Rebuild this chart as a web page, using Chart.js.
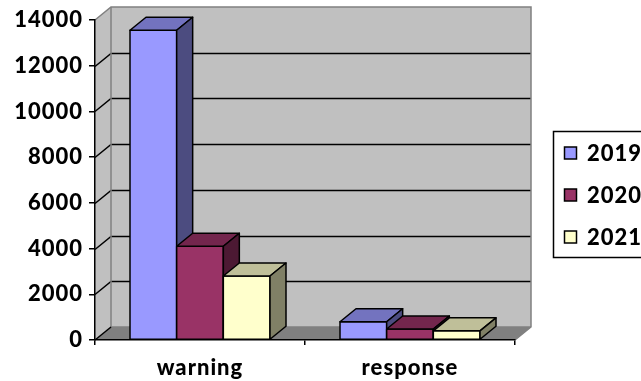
<!DOCTYPE html>
<html>
<head>
<meta charset="utf-8">
<script src="https://cdn.jsdelivr.net/npm/chart.js@4.4.1/dist/chart.umd.min.js"></script>
<style>
  html, body { margin: 0; padding: 0; background: #ffffff; }
  #wrap { width: 641px; height: 381px; position: relative; }
</style>
</head>
<body>
<div id="wrap"><canvas id="chart" width="641" height="381"></canvas></div>
<script>
// Categories and yearly series
const categories = ['warning', 'response'];
const seriesLabels = ['2019', '2020', '2021'];
const values2019 = [13550, 800];
const values2020 = [4100, 480];
const values2021 = [2800, 400];
const yTicks = [0, 2000, 4000, 6000, 8000, 10000, 12000, 14000];

// Face colours: front, top (lighter shade), side (darker shade)
const faceColors = [
  { front: '#9999FF', top: '#7373BF', side: '#4C4C80' },
  { front: '#993366', top: '#73264D', side: '#4C1933' },
  { front: '#FFFFCC', top: '#BFBF99', side: '#808066' }
];

const DEPTH_X = 16;
const DEPTH_Y = -13;
const FONT = 'Lato, "DejaVu Sans", sans-serif';
const FONT_SIZE = 22;
const FONT_WEIGHT = '900';

// Walls, floor and gridlines of the 3-D plot box
const boxPlugin = {
  id: 'box3d',
  beforeDraw(chart) {
    const { ctx, chartArea: a, scales } = chart;
    const y = scales.y;
    const dx = DEPTH_X, dy = DEPTH_Y;
    ctx.save();
    ctx.fillStyle = '#ffffff';
    ctx.fillRect(0, 0, chart.width, chart.height);

    const top = y.getPixelForValue(yTicks[yTicks.length - 1]);
    const bot = y.getPixelForValue(0);

    // back wall
    ctx.fillStyle = '#C0C0C0';
    ctx.fillRect(a.left + dx, top + dy, a.right - a.left, bot - top);
    // left wall
    ctx.beginPath();
    ctx.moveTo(a.left, top);
    ctx.lineTo(a.left + dx, top + dy);
    ctx.lineTo(a.left + dx, bot + dy);
    ctx.lineTo(a.left, bot);
    ctx.closePath();
    ctx.fill();
    // floor
    ctx.fillStyle = '#808080';
    ctx.beginPath();
    ctx.moveTo(a.left, bot);
    ctx.lineTo(a.left + dx, bot + dy);
    ctx.lineTo(a.right + dx, bot + dy);
    ctx.lineTo(a.right, bot);
    ctx.closePath();
    ctx.fill();

    // gridlines on back wall and left wall
    ctx.strokeStyle = '#000000';
    ctx.lineWidth = 1.5;
    yTicks.forEach(v => {
      if (v === 0 || v === yTicks[yTicks.length - 1]) return;
      const py = Math.round(y.getPixelForValue(v)) + 0.5;
      ctx.beginPath();
      ctx.moveTo(a.left, py);
      ctx.lineTo(a.left + dx, py + dy);
      ctx.lineTo(a.right + dx, py + dy);
      ctx.stroke();
    });

    // wall edges
    ctx.strokeStyle = '#808080';
    ctx.lineWidth = 1.5;
    ctx.beginPath();
    ctx.moveTo(a.left, top);
    ctx.lineTo(a.left + dx, top + dy);
    ctx.lineTo(a.right + dx, top + dy);
    ctx.lineTo(a.right + dx, bot + dy);
    ctx.lineTo(a.right, bot);
    ctx.stroke();
    ctx.beginPath();
    ctx.moveTo(a.left + dx, top + dy);
    ctx.lineTo(a.left + dx, bot + dy);
    ctx.lineTo(a.right + dx, bot + dy);
    ctx.stroke();
    ctx.strokeStyle = '#000000';
    ctx.beginPath();
    ctx.moveTo(a.left, bot);
    ctx.lineTo(a.left + dx, bot + dy);
    ctx.stroke();
    ctx.restore();
    // slightly wider letter spacing for all chart text
    ctx.letterSpacing = '1px';
  },
  // 3-D columns built from the bar elements' positions
  beforeDatasetsDraw(chart) {
    const { ctx } = chart;
    const dx = DEPTH_X, dy = DEPTH_Y;
    ctx.save();
    ctx.lineWidth = 1.5;
    ctx.strokeStyle = '#000000';
    ctx.lineJoin = 'round';
    categories.forEach((c, j) => {
      chart.data.datasets.forEach((ds, i) => {
        const el = chart.getDatasetMeta(i).data[j];
        const p = el.getProps(['x', 'y', 'base', 'width'], true);
        const l = p.x - p.width / 2, r = p.x + p.width / 2;
        const t = p.y, b = p.base;
        const col = faceColors[i];
        // front
        ctx.fillStyle = col.front;
        ctx.fillRect(l, t, r - l, b - t);
        ctx.strokeRect(l, t, r - l, b - t);
        // top
        ctx.fillStyle = col.top;
        ctx.beginPath();
        ctx.moveTo(l, t);
        ctx.lineTo(l + dx, t + dy);
        ctx.lineTo(r + dx, t + dy);
        ctx.lineTo(r, t);
        ctx.closePath();
        ctx.fill();
        ctx.stroke();
        // side
        ctx.fillStyle = col.side;
        ctx.beginPath();
        ctx.moveTo(r, t);
        ctx.lineTo(r + dx, t + dy);
        ctx.lineTo(r + dx, b + dy);
        ctx.lineTo(r, b);
        ctx.closePath();
        ctx.fill();
        ctx.stroke();
      });
    });
    ctx.restore();
    return false;
  },
  // boxed legend on the right
  afterDraw(chart) {
    const { ctx } = chart;
    ctx.save();
    ctx.letterSpacing = '1px';
    ctx.strokeStyle = '#000000';
    ctx.lineWidth = 1.5;
    ctx.strokeRect(553.5, 131.5, 110, 126);
    ctx.font = FONT_WEIGHT + ' ' + FONT_SIZE + 'px ' + FONT;
    ctx.textBaseline = 'middle';
    ctx.textAlign = 'left';
    chart.data.datasets.forEach((ds, i) => {
      const cy = 153 + i * 42;
      ctx.fillStyle = ds.backgroundColor;
      ctx.fillRect(564.5, cy - 6, 12, 12);
      ctx.lineWidth = 1.5;
      ctx.strokeRect(564.5, cy - 6, 12, 12);
      ctx.fillStyle = '#000000';
      ctx.fillText(ds.label, 587, cy + 1);
    });
    ctx.restore();
  }
};

const seriesValues = [values2019, values2020, values2021];

new Chart(document.getElementById('chart'), {
  type: 'bar',
  data: {
    labels: categories,
    datasets: seriesLabels.map((lab, i) => ({
      label: lab,
      data: seriesValues[i],
      backgroundColor: faceColors[i].front,
      borderColor: '#000000',
      borderWidth: 1.5,
      categoryPercentage: 2 / 3,
      barPercentage: 1
    }))
  },
  options: {
    responsive: false,
    animation: false,
    events: [],
    layout: { padding: { left: 0, top: 20, right: 126, bottom: 0 } },
    plugins: {
      legend: { display: false },
      tooltip: { enabled: false }
    },
    scales: {
      x: {
        grid: { display: true, drawOnChartArea: false, drawTicks: true, tickLength: 5, color: '#000000', lineWidth: 1.5, offset: true },
        border: { display: true, color: '#000000', width: 1.5 },
        ticks: { color: '#000000', font: { family: FONT, size: FONT_SIZE, weight: FONT_WEIGHT }, padding: 10 },
        afterFit(scale) { scale.height = 41; }
      },
      y: {
        min: 0,
        max: 14000,
        afterBuildTicks(scale) { scale.ticks = yTicks.map(v => ({ value: v })); },
        grid: { display: true, drawOnChartArea: false, drawTicks: true, tickLength: 6, color: '#000000', lineWidth: 1.5 },
        border: { display: true, color: '#000000', width: 1.5 },
        ticks: {
          color: '#000000',
          font: { family: FONT, size: FONT_SIZE, weight: FONT_WEIGHT },
          padding: 6,
          callback: (v) => String(v)
        },
        afterFit(scale) { scale.width = 95; }
      }
    }
  },
  plugins: [boxPlugin]
});
</script>
</body>
</html>
